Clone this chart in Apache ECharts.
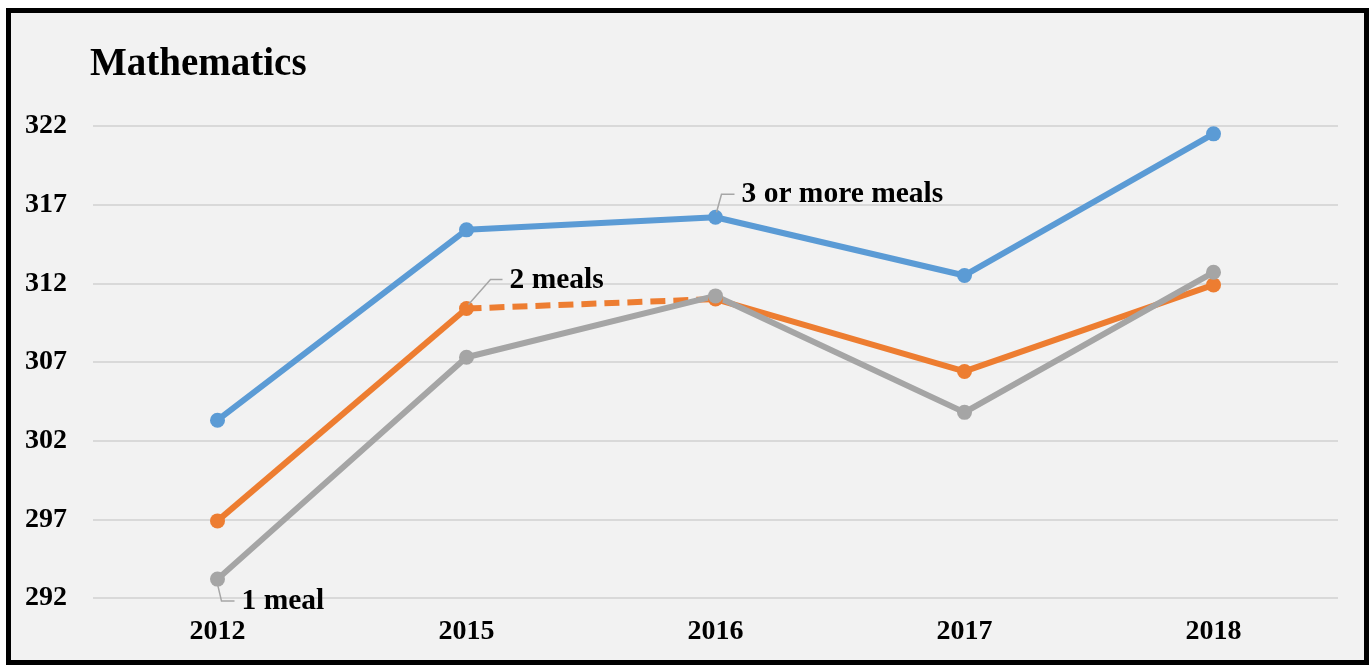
<!DOCTYPE html>
<html>
<head>
<meta charset="utf-8">
<script src="https://cdn.jsdelivr.net/npm/echarts@6/dist/echarts.min.js"></script>
<style>
  html, body { margin: 0; padding: 0; background: #ffffff; }
  #frame {
    position: absolute; left: 6px; top: 8px; width: 1363px; height: 657px;
    box-sizing: border-box; border: 5px solid #000; background: #f2f2f2;
  }
  #chart { position: absolute; left: 0; top: 0; width: 1369px; height: 665px; }
</style>
</head>
<body>
<div id="frame"></div>
<div id="chart"></div>
<script>
// Survey years and average mathematics scores by number of meals per day
const years = ['2012', '2015', '2016', '2017', '2018'];
const threeMeals = [303.3, 315.4, 316.2, 312.5, 321.5];
const twoMeals = [296.9, 310.4, 311.0, 306.4, 311.9];
const oneMeal = [293.2, 307.3, 311.2, 303.8, 312.7];
const yTicks = { min: 292, max: 322, step: 5 };

const FONT = '"Liberation Serif", "Times New Roman", serif';
const BLUE = '#5b9bd5', ORANGE = '#ed7d31', GRAY = '#a5a5a5';

// 2 meals: solid up to 2015, dashed 2015–2016, solid again from 2016
const twoSolidA = twoMeals.map((v, i) => (i <= 1 ? v : null));
const twoDashed = twoMeals.map((v, i) => (i === 1 || i === 2 ? v : null));
const twoSolidB = twoMeals.map((v, i) => (i >= 2 ? v : null));

const chart = echarts.init(document.getElementById('chart'), null, { renderer: 'canvas' });

function lineSeries(name, data, color, extra) {
  return Object.assign({
    name: name,
    type: 'line',
    data: data,
    symbol: 'circle',
    symbolSize: 15,
    connectNulls: false,
    animation: false,
    itemStyle: { color: color },
    lineStyle: { color: color, width: 6 },
    emphasis: { disabled: true }
  }, extra || {});
}

chart.setOption({
  backgroundColor: 'transparent',
  animation: false,
  title: {
    text: 'Mathematics',
    left: 85,
    top: 40,
    textStyle: { fontFamily: FONT, fontWeight: 'bold', fontSize: 39, color: '#000' }
  },
  grid: { left: 93, right: 31, top: 126, bottom: 67 },
  xAxis: {
    type: 'category',
    data: years,
    boundaryGap: true,
    axisLine: { show: false },
    axisTick: { show: false },
    axisLabel: { margin: 20, fontFamily: FONT, fontWeight: 'bold', fontSize: 28, color: '#000' }
  },
  yAxis: {
    type: 'value',
    min: yTicks.min,
    max: yTicks.max,
    interval: yTicks.step,
    axisLine: { show: false },
    axisTick: { show: false },
    splitLine: { lineStyle: { color: '#d9d9d9', width: 2 } },
    axisLabel: { margin: 26, fontFamily: FONT, fontWeight: 'bold', fontSize: 28, color: '#000' }
  },
  series: [
    lineSeries('3 or more meals', threeMeals, BLUE),
    lineSeries('2 meals', twoSolidA, ORANGE),
    lineSeries('2 meals', twoDashed, ORANGE, {
      showSymbol: false,
      lineStyle: { color: ORANGE, width: 6, type: [15, 8], cap: 'butt' }
    }),
    lineSeries('2 meals', twoSolidB, ORANGE),
    lineSeries('1 meal', oneMeal, GRAY)
  ]
});

// Series name labels with short leader lines, anchored to data points
function pt(seriesIndex, i, values) {
  return chart.convertToPixel({ seriesIndex: seriesIndex }, [i, values[i]]);
}
const pBlue = pt(0, 2, threeMeals);
const pOrange = pt(1, 1, twoMeals);
const pGray = pt(4, 0, oneMeal);

const leader = { stroke: '#a6a6a6', lineWidth: 1.5, fill: null };
const labelStyle = (text, x, y) => ({
  type: 'text', x: x, y: y, z: 100,
  style: { text: text, fill: '#000', font: 'bold 29.5px ' + FONT, textVerticalAlign: 'middle', verticalAlign: 'middle' }
});

chart.setOption({
  graphic: [
    { type: 'polyline', z: 99, shape: { points: [[pBlue[0] + 1, pBlue[1] - 5], [pBlue[0] + 6, pBlue[1] - 23], [pBlue[0] + 19, pBlue[1] - 23]] }, style: leader },
    labelStyle('3 or more meals', pBlue[0] + 26, pBlue[1] - 23),
    { type: 'polyline', z: 99, shape: { points: [[pOrange[0] + 2, pOrange[1] - 4], [pOrange[0] + 24, pOrange[1] - 29], [pOrange[0] + 36, pOrange[1] - 29]] }, style: leader },
    labelStyle('2 meals', pOrange[0] + 43, pOrange[1] - 28),
    { type: 'polyline', z: 99, shape: { points: [[pGray[0], pGray[1] + 5], [pGray[0] + 4, pGray[1] + 22], [pGray[0] + 17, pGray[1] + 22]] }, style: leader },
    labelStyle('1 meal', pGray[0] + 24, pGray[1] + 22)
  ]
});
</script>
</body>
</html>
